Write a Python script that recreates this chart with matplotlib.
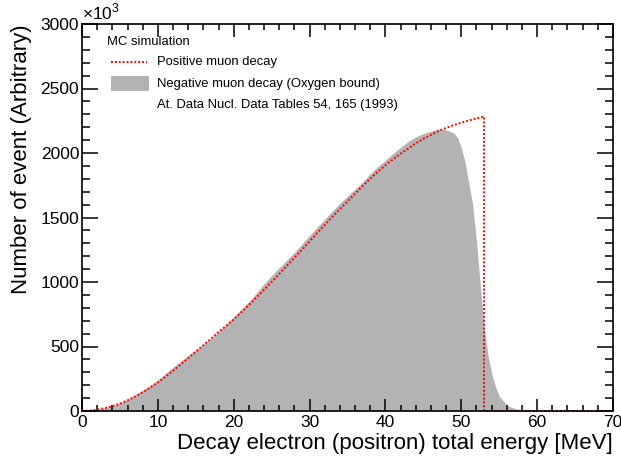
import matplotlib
matplotlib.use('Agg')
import matplotlib.pyplot as plt
from matplotlib.lines import Line2D
from matplotlib.patches import Rectangle
from matplotlib.ticker import MultipleLocator

plt.rcParams['font.family'] = ['Liberation Sans', 'DejaVu Sans']
plt.rcParams['mathtext.fontset'] = 'custom'
plt.rcParams['mathtext.rm'] = 'Liberation Sans'

# positive muon decay (free), x10^3 events, read per 1 MeV
mu_plus_energy = list(range(0, 54))
mu_plus_counts = [0, 3, 10, 22, 37, 56, 82, 112, 145, 182,
                  222, 265, 312, 360, 410, 460, 510, 560, 612, 660,
                  710, 765, 822, 880, 940, 1000, 1062, 1125, 1188, 1250,
                  1315, 1380, 1442, 1505, 1565, 1625, 1685, 1745, 1800, 1855,
                  1905, 1950, 1995, 2035, 2075, 2110, 2140, 2170, 2195, 2215,
                  2235, 2252, 2268, 2282]

# negative muon decay, bound in oxygen
mu_minus_energy = list(range(0, 50)) + [49.5, 50, 50.5, 51, 51.5, 52, 52.5, 53, 53.5,
                                        54, 54.5, 55, 56, 57, 58, 59, 60]
mu_minus_counts = [0, 4, 12, 25, 40, 60, 90, 125, 160, 198,
                   240, 292, 340, 385, 430, 470, 515, 560, 612, 670,
                   730, 790, 847, 915, 985, 1050, 1110, 1170, 1230, 1295,
                   1360, 1425, 1488, 1550, 1610, 1665, 1720, 1775, 1840, 1895,
                   1945, 1995, 2045, 2090, 2125, 2150, 2170, 2185, 2180, 2155,
                   2120, 2040, 1930, 1760, 1600, 1320, 980, 650, 440,
                   294, 190, 115, 45, 20, 8, 3, 0]

x_max = 70
y_max = 3000

W, H = 621, 459
fig = plt.figure(figsize=(W / 100, H / 100), dpi=100)
ax = fig.add_axes([82 / W, 1 - 411 / H, (613 - 82) / W, (411 - 24) / H])

gray = '#b3b3b3'
red = '#ff0000'
dots = (0, (1, 1))

ax.fill_between(mu_minus_energy, mu_minus_counts, 0, color=gray, lw=0)

# red histogram outline: curve, drop to zero at the endpoint, zero line to the end
end_e = mu_plus_energy[-1]
red_x = mu_plus_energy + [end_e, x_max]
red_y = mu_plus_counts + [0, 0]
ax.plot(red_x, red_y, color=red, lw=1.4, linestyle=dots, clip_on=False)

ax.set_xlim(0, x_max)
ax.set_ylim(0, y_max)
ax.xaxis.set_major_locator(MultipleLocator(10))
ax.xaxis.set_minor_locator(MultipleLocator(2))
ax.yaxis.set_major_locator(MultipleLocator(500))
ax.yaxis.set_minor_locator(MultipleLocator(100))
ax.tick_params(axis='both', which='both', direction='in', top=True, right=True,
               labelsize=12.5, width=1.1)
ax.tick_params(axis='x', which='major', length=9, pad=3)
ax.tick_params(axis='x', which='minor', length=4.5)
ax.tick_params(axis='y', which='major', length=11.5, pad=2)
ax.tick_params(axis='y', which='minor', length=5.8)
for sp in ax.spines.values():
    sp.set_linewidth(1.2)

ax.set_xlabel('Decay electron (positron) total energy [MeV]', fontsize=16,
              loc='right', labelpad=2)
ax.set_ylabel('Number of event (Arbitrary)', fontsize=16, loc='top', labelpad=6)

ax.text(0, 1.005, r'$\times10^{3}$', transform=ax.transAxes, fontsize=12.5,
        ha='left', va='bottom')


def fx(px):
    return px / W


def fy(py):
    return 1 - py / H


fs = 9.4
fig.text(fx(107), fy(42), 'MC simulation', fontsize=fs, va='center')
fig.add_artist(Line2D([fx(111), fx(147)], [fy(62), fy(62)], color=red, lw=1.4,
                      linestyle=dots))
fig.text(fx(157), fy(62), 'Positive muon decay', fontsize=fs, va='center')
fig.add_artist(Rectangle((fx(111), fy(91)), fx(38), 15 / H, color=gray, lw=0,
                         transform=fig.transFigure))
fig.text(fx(157), fy(84), 'Negative muon decay (Oxygen bound)', fontsize=fs,
         va='center')
fig.text(fx(157), fy(105), 'At. Data Nucl. Data Tables 54, 165 (1993)',
         fontsize=fs, va='center')

fig.savefig('out.png', dpi=100)
